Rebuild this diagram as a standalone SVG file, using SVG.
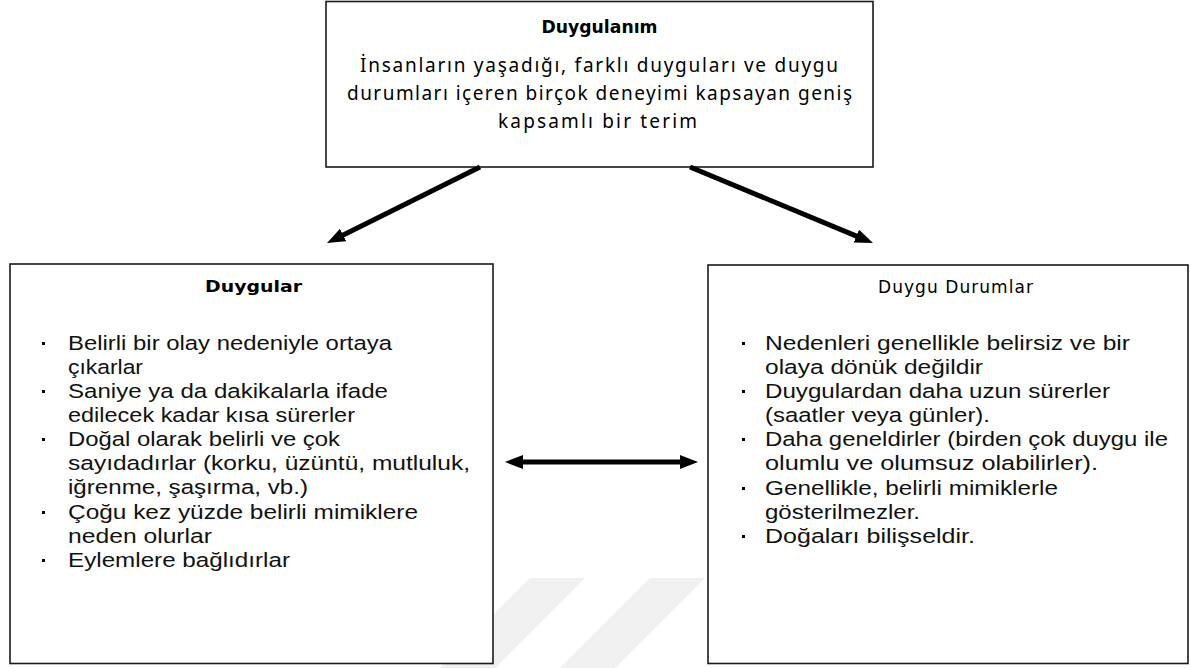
<svg xmlns="http://www.w3.org/2000/svg" width="1190" height="668" viewBox="0 0 1190 668">
<style>
.box{fill:#fff;stroke:#1a1a1a;stroke-width:1.6}
.title{font-family:"DejaVu Sans",sans-serif;font-weight:bold;fill:#000}
.sub{font-family:"DejaVu Sans",sans-serif;font-size:17px;fill:#000}
.top{font-family:"Noto Sans","Open Sans",sans-serif;font-size:19px;fill:#000}
.body{font-family:"Liberation Sans",Arial,sans-serif;font-size:20.5px;fill:#111}
.bul{fill:#000}
.conn{stroke:#000;stroke-width:5;fill:none}
.wm{fill:#f0f0f0}
</style>
<defs>
<marker id="ah" markerUnits="userSpaceOnUse" markerWidth="20" markerHeight="16" refX="6" refY="7" orient="auto-start-reverse">
<path d="M0,0 L18,7 L0,14 z" fill="#000"/>
</marker>
</defs>
<rect width="1190" height="668" fill="#fff"/>
<g id="watermark">
<polygon class="wm" points="530,578 585,578 495,668 440,668"/>
<polygon class="wm" points="650,578 705,578 615,668 560,668"/>
</g>
<g id="node-duygulanim">
<rect class="box" x="326" y="1.5" width="547" height="165.5"/>
<text class="title" x="599.5" y="33" font-size="17.5" text-anchor="middle" textLength="116" lengthAdjust="spacingAndGlyphs">Duygulanım</text>
<text class="top" x="360" y="72" textLength="478" lengthAdjust="spacing">İnsanların yaşadığı, farklı duyguları ve duygu</text>
<text class="top" x="347" y="100" textLength="505" lengthAdjust="spacing">durumları içeren birçok deneyimi kapsayan geniş</text>
<text class="top" x="498" y="128" textLength="199" lengthAdjust="spacing">kapsamlı bir terim</text>
</g>
<g id="node-duygular">
<rect class="box" x="10" y="264" width="483" height="399.5"/>
<text class="title" x="205" y="292" font-size="16" textLength="97" lengthAdjust="spacingAndGlyphs">Duygular</text>
<g class="bul">
<rect x="42" y="342" width="3" height="3"/>
<rect x="42" y="390" width="3" height="3"/>
<rect x="42" y="438" width="3" height="3"/>
<rect x="42" y="511" width="3" height="3"/>
<rect x="42" y="559" width="3" height="3"/>
</g>
<text class="body" x="68" y="350" textLength="324" lengthAdjust="spacingAndGlyphs">Belirli bir olay nedeniyle ortaya</text>
<text class="body" x="68" y="374" textLength="75" lengthAdjust="spacingAndGlyphs">çıkarlar</text>
<text class="body" x="68" y="398" textLength="320" lengthAdjust="spacingAndGlyphs">Saniye ya da dakikalarla ifade</text>
<text class="body" x="68" y="422" textLength="287" lengthAdjust="spacingAndGlyphs">edilecek kadar kısa sürerler</text>
<text class="body" x="68" y="446" textLength="272" lengthAdjust="spacingAndGlyphs">Doğal olarak belirli ve çok</text>
<text class="body" x="68" y="470" textLength="402" lengthAdjust="spacingAndGlyphs">sayıdadırlar (korku, üzüntü, mutluluk,</text>
<text class="body" x="68" y="494" textLength="240" lengthAdjust="spacingAndGlyphs">iğrenme, şaşırma, vb.)</text>
<text class="body" x="68" y="519" textLength="350" lengthAdjust="spacingAndGlyphs">Çoğu kez yüzde belirli mimiklere</text>
<text class="body" x="68" y="543" textLength="144" lengthAdjust="spacingAndGlyphs">neden olurlar</text>
<text class="body" x="68" y="567" textLength="222" lengthAdjust="spacingAndGlyphs">Eylemlere bağlıdırlar</text>
</g>
<g id="node-duygu-durumlar">
<rect class="box" x="708" y="265" width="480" height="398.5"/>
<text class="sub" x="878" y="293" textLength="155" lengthAdjust="spacing">Duygu Durumlar</text>
<g class="bul">
<rect x="742" y="342" width="3" height="3"/>
<rect x="742" y="390" width="3" height="3"/>
<rect x="742" y="438" width="3" height="3"/>
<rect x="742" y="487" width="3" height="3"/>
<rect x="742" y="535" width="3" height="3"/>
</g>
<text class="body" x="765" y="350" textLength="365" lengthAdjust="spacingAndGlyphs">Nedenleri genellikle belirsiz ve bir</text>
<text class="body" x="765" y="374" textLength="218" lengthAdjust="spacingAndGlyphs">olaya dönük değildir</text>
<text class="body" x="765" y="398" textLength="345" lengthAdjust="spacingAndGlyphs">Duygulardan daha uzun sürerler</text>
<text class="body" x="765" y="422" textLength="225" lengthAdjust="spacingAndGlyphs">(saatler veya günler).</text>
<text class="body" x="765" y="446" textLength="403" lengthAdjust="spacingAndGlyphs">Daha geneldirler (birden çok duygu ile</text>
<text class="body" x="765" y="470" textLength="333" lengthAdjust="spacingAndGlyphs">olumlu ve olumsuz olabilirler).</text>
<text class="body" x="765" y="495" textLength="293" lengthAdjust="spacingAndGlyphs">Genellikle, belirli mimiklerle</text>
<text class="body" x="765" y="519" textLength="155" lengthAdjust="spacingAndGlyphs">gösterilmezler.</text>
<text class="body" x="765" y="543" textLength="210" lengthAdjust="spacingAndGlyphs">Doğaları bilişseldir.</text>
</g>
<g id="connectors">
<line class="conn" x1="480" y1="167" x2="337.75" y2="237.66" marker-end="url(#ah)"/>
<line class="conn" x1="690" y1="167" x2="861.92" y2="238.4" marker-end="url(#ah)"/>
<line class="conn" x1="517" y1="462" x2="686" y2="462" stroke-width="4.5" marker-start="url(#ah)" marker-end="url(#ah)"/>
</g>
</svg>
